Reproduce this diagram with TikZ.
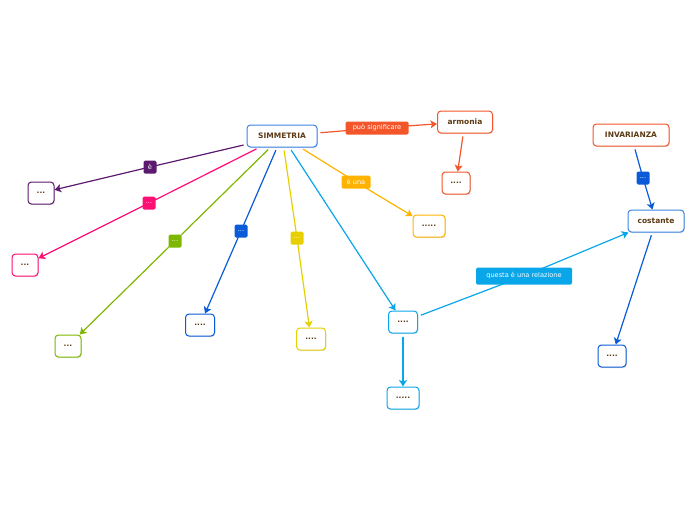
\documentclass[tikz,border=0pt]{standalone}
\usepackage{fontspec}
\setmainfont{DejaVu Sans}
\usetikzlibrary{arrows.meta,shadows,backgrounds}
\definecolor{ored}{HTML}{F2562A}
\definecolor{purp}{HTML}{5C1A6E}
\definecolor{pink}{HTML}{FF0F73}
\definecolor{grn}{HTML}{7DB700}
\definecolor{blu}{HTML}{0A5BD8}
\definecolor{lblu}{HTML}{3D85E6}
\definecolor{yel}{HTML}{E8D000}
\definecolor{cyn}{HTML}{0AA6EA}
\definecolor{amb}{HTML}{FFB300}
\definecolor{txt}{HTML}{5C3A14}
\tikzset{
  box/.style={draw=#1, line width=1pt, rounded corners=3.5pt, fill=white,
    minimum height=22pt, minimum width=26pt, inner xsep=7pt, inner ysep=2pt,
    text=txt, font=\fontsize{7.5}{8}\selectfont\bfseries,
    drop shadow={shadow xshift=0.8pt, shadow yshift=-1.2pt, opacity=0.25}},
  lbl/.style={fill=#1, text=white, rounded corners=1.5pt, inner sep=1.5pt,
    minimum height=13pt, minimum width=13pt, font=\fontsize{6.6}{7}\selectfont},
  conn/.style={draw=#1, line width=1.2pt, shorten <=3pt, -{Stealth[length=6.5pt,width=8pt,inset=1.5pt]}},
}
\begin{document}
\begin{tikzpicture}[x=1pt,y=-1pt]
\useasboundingbox (0,0) rectangle (696,520);
% nodes
\node[box=lblu, minimum width=70pt] (sim) at (282,136) {SIMMETRIA};
\node[box=ored, minimum width=55pt] (arm) at (465,122) {armonia};
\node[box=ored, minimum width=28pt] (arm2) at (456,183) {....};
\node[box=ored, minimum width=76pt] (inv) at (631,135) {INVARIANZA};
\node[box=lblu, minimum width=56pt] (cos) at (656,221) {costante};
\node[box=blu, minimum width=28pt] (cos2) at (612,356) {....};
\node[box=purp] (pu) at (41,193) {...};
\node[box=pink] (pi) at (25,265) {...};
\node[box=grn] (gr) at (68,346) {...};
\node[box=blu, minimum width=29pt] (bl) at (200,325) {....};
\node[box=yel, minimum width=29pt] (ye) at (311,339) {....};
\node[box=cyn, minimum width=29pt] (cy) at (403,322) {....};
\node[box=cyn, minimum width=32pt] (cy2) at (403,398) {.....};
\node[box=amb, minimum width=32pt] (am) at (429,226) {.....};
% labels
\node[lbl=ored, minimum width=63pt] (l1) at (377,128) {può significare};
\node[lbl=purp] (l2) at (150,167) {è};
\node[lbl=pink] (l3) at (149,203) {...};
\node[lbl=grn] (l4) at (175,241) {...};
\node[lbl=blu] (l5) at (241,231) {...};
\node[lbl=yel] (l6) at (297,238) {...};
\node[lbl=amb, minimum width=29pt] (l7) at (356,182) {è una};
\node[lbl=cyn, minimum width=96pt, minimum height=17pt] (l8) at (524,276) {questa è una relazione};
\node[lbl=blu] (l9) at (643,178) {...};
% connectors
\begin{scope}[on background layer]
\draw[conn=ored] (sim) -- (l1.center) -- (arm);
\draw[conn=ored] (arm) -- (arm2);
\draw[conn=purp] (sim) -- (l2.center) -- (pu);
\draw[conn=pink] (sim) -- (l3.center) -- (pi);
\draw[conn=grn] (sim) -- (l4.center) -- (gr);
\draw[conn=blu] (sim) -- (l5.center) -- (bl);
\draw[conn=yel] (sim) -- (l6.center) -- (ye);
\draw[conn=cyn] (sim) -- (cy);
\draw[conn=amb] (sim) -- (l7.center) -- (am);
\draw[conn=cyn] (cy) -- (l8.center) -- (cos);
\draw[conn=cyn] (cy) -- (cy2);
\draw[conn=blu] (inv) -- (l9.center) -- (cos);
\draw[conn=blu] (cos) -- (cos2);
\end{scope}
\end{tikzpicture}
\end{document}
